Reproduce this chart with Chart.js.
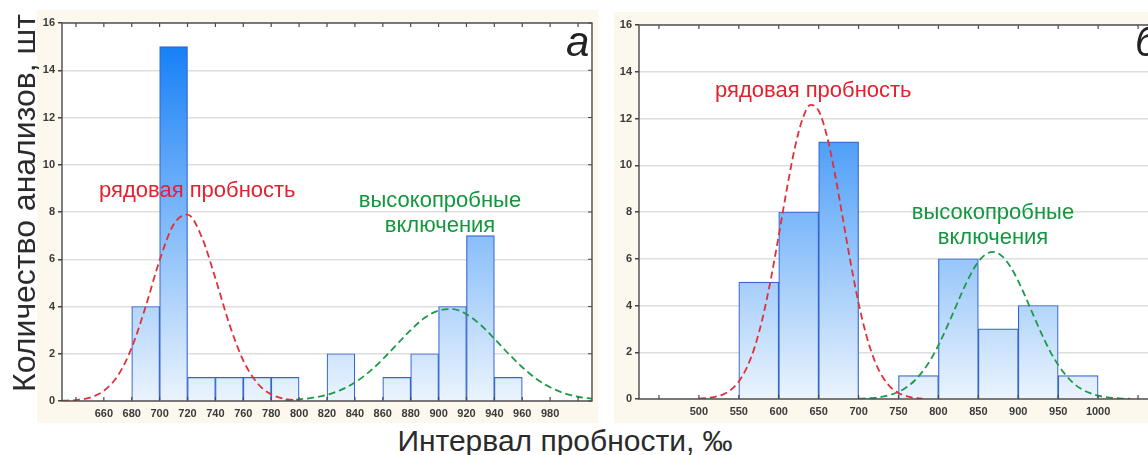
<!DOCTYPE html>
<html>
<head>
<meta charset="utf-8">
<script src="https://cdn.jsdelivr.net/npm/chart.js@4.4.1/dist/chart.umd.min.js"></script>
<style>
  body { margin: 0; width: 1148px; height: 455px; overflow: hidden; background: #fff; position: relative;
         font-family: 'Liberation Sans', Arial, sans-serif; }
  .panel { position: absolute; background: #fcf8ee; }
  #panelA { left: 37px; top: 10px; width: 561px; height: 413px; }
  #panelB { left: 614px; top: 12px; width: 552px; height: 411px; }
  .panel canvas { position: absolute; left: 0; top: 0; }
  .note { position: absolute; font-size: 22px; line-height: 25px; white-space: nowrap; }
  .red { color: #e3222d; }
  .green { color: #11973d; text-align: center; width: 200px; }
  .letter { position: absolute; font-size: 42px; line-height: 42px; font-style: italic; color: #222; }
  .title { position: absolute; color: #2b2b2b; white-space: nowrap; text-align: center; }
</style>
</head>
<body>
<div class="panel" id="panelA"><canvas id="chartA" width="561" height="413"></canvas></div>
<div class="panel" id="panelB"><canvas id="chartB" width="552" height="411"></canvas></div>

<div class="note red" style="left:99px; top:177px;">рядовая пробность</div>
<div class="note green" style="left:340px; top:187px;">высокопробные<br>включения</div>
<div class="note red" style="left:715px; top:77px;">рядовая пробность</div>
<div class="note green" style="left:893px; top:199px;">высокопробные<br>включения</div>
<div class="letter" style="left:566px; top:21px;">а</div>
<div class="letter" style="left:1135px; top:21px;">б</div>

<div class="title" style="font-size:32px; line-height:32px; width:420px; left:-186px; top:187px; transform:rotate(-90deg);">Количество анализов, шт</div>
<div class="title" style="font-size:30px; line-height:30px; width:400px; left:365px; top:426px;">Интервал пробности, ‰</div>

<script>
// panel a
const binsA = [690, 710, 730, 750, 770, 790, 830, 870, 890, 910, 930, 950];
const countsA = [4, 15, 1, 1, 1, 1, 2, 1, 2, 4, 7, 1];
const ticksA = [640, 660, 680, 700, 720, 740, 760, 780, 800, 820, 840, 860, 880, 900, 920, 940, 960, 980, 1000];
const tickLabelsA = ['', '660', '680', '700', '720', '740', '760', '780', '800', '820', '840', '860', '880', '900', '920', '940', '960', '980', ''];
const redXA = [630, 640, 650, 660, 670, 680, 690, 700, 710, 720, 730, 740, 750, 760, 770, 780, 790, 800];
const redYA = [0.01, 0.04, 0.14, 0.43, 1.07, 2.26, 4.0, 5.96, 7.47, 7.89, 6.97, 5.19, 3.25, 1.71, 0.76, 0.28, 0.09, 0.02];
const greenXA = [790, 800, 810, 820, 830, 840, 850, 860, 870, 880, 890, 900, 910, 920, 930, 940, 950, 960, 970, 980, 990, 1000, 1010];
const greenYA = [0.03, 0.07, 0.14, 0.26, 0.47, 0.78, 1.22, 1.77, 2.39, 3.0, 3.52, 3.83, 3.89, 3.67, 3.23, 2.64, 2.01, 1.43, 0.94, 0.58, 0.33, 0.18, 0.09];

// panel b
const binsB = [575, 625, 675, 775, 825, 875, 925, 975];
const countsB = [5, 8, 11, 1, 6, 3, 4, 1];
const ticksB = [450, 500, 550, 600, 650, 700, 750, 800, 850, 900, 950, 1000, 1050];
const tickLabelsB = ['', '500', '550', '600', '650', '700', '750', '800', '850', '900', '950', '1000', ''];
const redXB = [500, 510, 520, 530, 540, 550, 560, 570, 580, 590, 600, 610, 620, 630, 640, 650, 660, 670, 680, 690, 700, 710, 720, 730, 740, 750, 760, 770, 780];
const redYB = [0.02, 0.04, 0.09, 0.19, 0.39, 0.75, 1.34, 2.23, 3.49, 5.11, 6.99, 8.95, 10.72, 12.0, 12.58, 12.33, 11.3, 9.7, 7.78, 5.84, 4.1, 2.69, 1.65, 0.95, 0.51, 0.26, 0.12, 0.05, 0.02];
const greenXB = [700, 710, 720, 730, 740, 750, 760, 770, 780, 790, 800, 810, 820, 830, 840, 850, 860, 870, 880, 890, 900, 910, 920, 930, 940, 950, 960, 970, 980, 990, 1000, 1010, 1020, 1030, 1040];
const greenYB = [0.01, 0.03, 0.05, 0.10, 0.18, 0.30, 0.50, 0.78, 1.17, 1.67, 2.30, 3.03, 3.81, 4.60, 5.31, 5.87, 6.21, 6.29, 6.10, 5.67, 5.04, 4.29, 3.50, 2.73, 2.03, 1.46, 1.00, 0.65, 0.41, 0.25, 0.14, 0.08, 0.04, 0.02, 0.01];

const yTicks = [0, 2, 4, 6, 8, 10, 12, 14, 16];

const pts = (xs, ys) => xs.map((x, i) => ({x: x, y: ys[i]}));

function barFill(c) {
    const chart = c.chart;
    if (!chart.chartArea) return '#8cc2f8';
    const y = chart.scales.y;
    const g = chart.ctx.createLinearGradient(0, y.getPixelForValue(15), 0, y.getPixelForValue(0));
    g.addColorStop(0, '#1780f6');
    g.addColorStop(1, '#ebf4fd');
    return g;
}

// white plot area, box round it, inward tick marks
const frame = {
    id: 'frame',
    beforeDraw(chart) {
        const a = chart.chartArea;
        chart.ctx.save();
        chart.ctx.fillStyle = '#fff';
        chart.ctx.fillRect(a.left, a.top, a.right - a.left, a.bottom - a.top);
        chart.ctx.restore();
    },
    afterDatasetsDraw(chart) {
        const ctx = chart.ctx, a = chart.chartArea, x = chart.scales.x, y = chart.scales.y;
        ctx.save();
        ctx.strokeStyle = '#4a4a4a';
        ctx.lineWidth = 1.4;
        ctx.strokeRect(a.left, a.top, a.right - a.left, a.bottom - a.top);
        ctx.lineWidth = 1.2;
        ctx.beginPath();
        x.ticks.forEach(t => {
            const px = x.getPixelForValue(t.value);
            ctx.moveTo(px, a.top); ctx.lineTo(px, a.top + 4);
            ctx.moveTo(px, a.bottom); ctx.lineTo(px, a.bottom - 4);
        });
        y.ticks.forEach(t => {
            const py = y.getPixelForValue(t.value);
            ctx.moveTo(a.right, py); ctx.lineTo(a.right - 4, py);
        });
        ctx.stroke();
        ctx.restore();
    }
};

function makeChart(id, bins, counts, ticks, labels, red, green, xMin, xMax, pad, xHeight) {
    const bars = bins.map((b, i) => ({x: b, y: counts[i] || null}));
    return new Chart(document.getElementById(id), {
        type: 'bar',
        data: {
            datasets: [
                {type: 'line', data: red, borderColor: '#e0303a', borderWidth: 1.8, borderDash: [7, 4],
                 pointRadius: 0, cubicInterpolationMode: 'monotone', fill: false, order: 1},
                {type: 'line', data: green, borderColor: '#1d9a48', borderWidth: 1.8, borderDash: [7, 4],
                 pointRadius: 0, cubicInterpolationMode: 'monotone', fill: false, order: 1},
                {type: 'bar', data: bars, backgroundColor: barFill, borderColor: '#3464cf', borderWidth: 1.2,
                 barPercentage: 1, categoryPercentage: 1, order: 2}
            ]
        },
        options: {
            responsive: false,
            animation: false,
            layout: {padding: pad},
            plugins: {legend: {display: false}, tooltip: {enabled: false}},
            scales: {
                x: {
                    type: 'linear', min: xMin, max: xMax, offset: false,
                    afterBuildTicks: s => { s.ticks = ticks.map(v => ({value: v})); },
                    afterFit: s => { s.height = xHeight; },
                    grid: {display: false, drawTicks: false, offset: false},
                    border: {display: false},
                    ticks: {autoSkip: false, maxRotation: 0, padding: 6, color: '#3a3a3a',
                            font: {family: 'Liberation Sans', size: 11, weight: 'bold'},
                            callback: (v, i) => labels[i]}
                },
                y: {
                    min: 0, max: 16,
                    afterBuildTicks: s => { s.ticks = yTicks.map(v => ({value: v})); },
                    afterFit: s => { s.width = 25; },
                    grid: {color: '#dedede', lineWidth: 1.5, tickColor: '#444', tickLength: 4},
                    border: {display: false},
                    ticks: {padding: 3, color: '#3a3a3a', font: {family: 'Liberation Sans', size: 11, weight: 'bold'}}
                }
            }
        },
        plugins: [frame]
    });
}

makeChart('chartA', binsA, countsA, ticksA, tickLabelsA, pts(redXA, redYA), pts(greenXA, greenYA),
          630, 1010, {left: 0, top: 13, right: 6, bottom: 0}, 22);
makeChart('chartB', binsB, countsB, ticksB, tickLabelsB, pts(redXB, redYB), pts(greenXB, greenYB),
          425, 1075, {left: 0, top: 13, right: 8, bottom: 0}, 24);
</script>
</body>
</html>
